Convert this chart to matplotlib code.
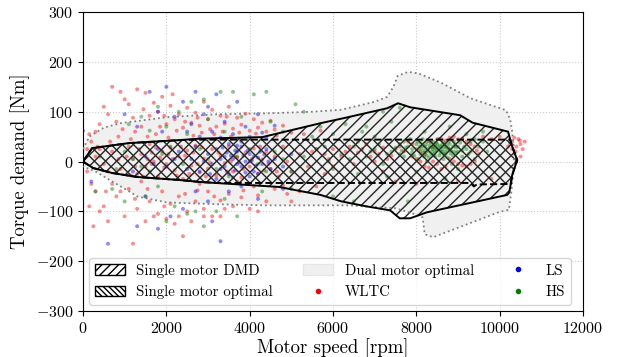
import numpy as np
import matplotlib
matplotlib.use('Agg')
import matplotlib.pyplot as plt
from matplotlib.patches import Patch
from matplotlib.lines import Line2D

plt.rcParams['font.family'] = 'serif'
plt.rcParams['font.serif'] = ['cmr10']
plt.rcParams['mathtext.fontset'] = 'cm'
plt.rcParams['axes.formatter.use_mathtext'] = True
plt.rcParams['font.size'] = 11
plt.rcParams['hatch.linewidth'] = 1.0

# envelopes (speed [rpm], torque [Nm])
dual_opt = [(0, 25), (150, 50), (500, 68), (900, 77), (1450, 83), (2000, 89), (3200, 95),
            (4500, 97), (5500, 100), (6200, 104), (7000, 120), (7300, 130), (7450, 150),
            (7550, 172), (7800, 180), (8050, 177), (8600, 158), (9300, 127), (10150, 103),
            (10250, 85), (10300, 60), (10350, 20), (10330, -20), (10280, -60), (10220, -97),
            (10000, -101), (8400, -152), (8200, -146), (8150, -112), (7900, -104),
            (7500, -94), (6400, -88), (4400, -88), (3300, -86), (2000, -82), (1300, -70),
            (1050, -57), (700, -40), (300, -20), (0, -10)]

single_dmd = [(0, 0), (220, 27), (400, 29), (1100, 37), (2300, 43), (2800, 46), (4300, 49),
              (4700, 57), (5200, 67), (5700, 77), (6250, 87), (7300, 107), (7560, 117),
              (7850, 109), (9050, 93), (9350, 78), (10200, 60), (10300, 30), (10420, 3),
              (10300, -27), (10230, -62), (10180, -67), (8250, -102), (7850, -114),
              (7600, -114), (7370, -98), (6800, -90), (6200, -80), (5700, -67), (4700, -51),
              (2800, -41), (2300, -37), (1300, -31), (700, -23), (240, -13), (0, 0)]

single_opt = [(0, 0), (220, 27), (400, 29), (1100, 37), (2300, 43), (2800, 44), (10250, 44),
              (10300, 30), (10420, 3), (10300, -27), (10264, -45), (9450, -46), (9380, -50),
              (9300, -43), (3200, -43), (2800, -41), (2300, -37), (1300, -31), (700, -23),
              (240, -13), (0, 0)]

# operating points
wltc = [(700, 150), (900, 140), (1000, 125), (1100, 115), (1300, 145), (1500, 138), (1700, 118),
        (1800, 100), (1900, 130), (2100, 112), (2300, 95), (2500, 108), (2700, 98), (2900, 120),
        (3100, 104), (3300, 92), (3500, 110), (3700, 88), (3900, 96), (4100, 85), (4300, 78),
        (4500, 82), (4800, 72), (600, 95), (800, 80), (1200, 88), (1400, 70), (1600, 92),
        (2000, 75), (2200, 85), (2400, 68), (2600, 78), (2800, 72), (3000, 85), (3200, 70),
        (3400, 76), (3600, 66), (3800, 74), (4000, 62), (4200, 68), (4400, 60), (4600, 64),
        (5000, 58), (300, 60), (200, 40), (400, 75), (150, 55), (100, 25), (500, 110),
        (1250, 60), (1750, 55), (2650, 52), (3150, 55), (850, 50), (950, 65), (1150, 45),
        (1550, 50), (1850, 70), (2050, 48), (2250, 62), (2450, 80), (2850, 58), (3050, 65),
        (3350, 60), (3550, 50), (3750, 58), (4150, 56), (4650, 52), (5300, 55), (5700, 62),
        (650, 40), (350, 30), (1450, 105), (2150, 135), (2750, 88), (3450, 90), (1950, 92),
        (300, 10), (500, -5), (700, 20), (900, -15), (1100, 30), (1200, 5), (1300, -25),
        (1400, 15), (1500, -10), (1600, 35), (1700, 0), (1800, -30), (1900, 20), (2000, -5),
        (2100, 28), (2200, -18), (2300, 10), (2400, -35), (2500, 22), (2600, -8), (2700, 32),
        (2800, -22), (2900, 6), (3000, -14), (3100, 25), (3200, -28), (3300, 12), (3400, -3),
        (3500, 30), (3600, -20), (3700, 8), (3800, -32), (3900, 18), (4000, -10), (4100, 26),
        (4200, -24), (4300, 4), (4400, 20), (4500, -15), (4600, 10), (4700, -30), (4800, 30),
        (4900, 0), (5000, -20), (5200, 15), (5400, -10), (5600, 25), (5800, -25),
        (1050, 10), (1450, -30), (1650, 18), (1950, -12), (2150, 5), (2350, 30), (2550, -25),
        (1350, 25), (1550, 5), (1850, 8), (2450, 12), (2750, -5), (1250, -10), (1750, 28),
        (2050, 15), (2250, -28), (2650, 18), (2850, 28), (3050, -2), (3250, 18), (3450, -20),
        (3650, 10), (3850, -15), (4050, 5), (4250, 30), (4450, -5), (4650, -20), (850, 5),
        (600, -20), (400, 25), (1150, -28), (1650, -5), (2950, -30), (3550, 0), (4350, -18),
        (100, -20), (200, -45), (300, -60), (400, -100), (500, -90), (600, -120), (800, -70),
        (1000, -110), (1100, -55), (1300, -95), (1500, -120), (1600, -80), (1800, -105),
        (1900, -60), (2000, -115), (2100, -85), (2200, -125), (2300, -70), (2500, -100),
        (2600, -120), (2700, -80), (2900, -95), (3000, -60), (3100, -110), (3300, -78),
        (3400, -95), (3500, -65), (3600, -90), (3800, -72), (4000, -95), (4200, -68),
        (4400, -80), (4600, -55), (4900, -65), (5200, -60), (5600, -50), (1200, -165),
        (2400, -150), (150, -90), (250, -130), (700, -45), (1400, -40), (2800, -45),
        (3700, -40), (1700, -110), (2300, -110), (2900, -110), (3300, -110), (4200, -100),
        (900, -60), (1250, -75), (1550, -55), (1950, -90), (2450, -65), (2750, -58),
        (3150, -70), (3850, -58), (4100, -50), (4800, -48), (5000, -80), (550, -60),
        (5500, 20), (5800, 15), (6000, 25), (6200, 10), (6400, 30), (6600, 18), (6800, 35),
        (7000, 20), (7200, 28), (7400, 12), (7600, 30), (7800, 40), (8000, 25), (8200, 15),
        (8400, 30), (8600, 45), (8800, 48), (9000, 45), (9200, 40), (9400, 30), (9500, 15),
        (9400, 0), (9200, -10), (9000, -5), (8800, 5), (8600, -15), (8400, 0), (8200, -10),
        (8000, 5), (7500, -40), (8000, -45), (9000, -40), (9800, -35), (6500, -5), (7000, 0),
        (7200, -20), (6000, -10), (10300, 40), (10400, 30), (10500, 35), (10450, 45),
        (10350, 48), (10250, 35), (10550, 25), (10500, 10), (10400, 0), (9800, 45),
        (9600, 50), (10000, 50), (10200, 30), (6900, 10), (7300, 5), (7700, 20), (5900, 5),
        (6300, 20), (6700, 25), (7100, 15), (7500, 25), (7900, 35), (8100, 20), (8300, 40),
        (8500, 45), (8700, 42), (8900, 50), (9100, 46), (9300, 35), (9450, 22), (9300, -5),
        (9100, -8), (8900, 0), (8700, -10), (8500, -5), (8300, -12), (8100, 0), (7900, 10),
        (10600, 40), (10380, 20), (10480, 42), (10300, 25)]

ls = [(2000, 150), (2700, 140), (3200, 135), (2400, 120), (1600, 140), (3700, 120), (4200, 95),
      (1000, 95), (1800, 100), (2200, 90), (2900, 95), (3400, 80), (3900, 70), (4600, 72),
      (1300, 70), (2500, 60), (3100, 60), (3600, 55), (4000, 50), (4400, 48), (0, 62),
      (1500, 10), (2000, -10), (2300, 20), (2600, 5), (2800, -20), (3000, 15), (3100, -5),
      (3200, 25), (3300, -15), (3400, 10), (3500, -25), (3600, 5), (3700, 20), (3800, -10),
      (3900, 0), (4000, 15), (4100, -20), (4200, 8), (4300, -5), (4400, 25), (4500, -15),
      (3500, 35), (3800, 30), (4000, -30), (4200, -25), (3200, -35), (2700, 30), (1200, -20),
      (1800, 25), (4600, 5), (4800, -10), (5000, 15), (3300, 5), (3700, -5), (4100, 10),
      (3950, 22), (3650, -18), (3850, 12), (4050, 2), (3750, -2), (3450, 18), (2900, 0),
      (3550, 12), (3900, -22), (4150, -8), (4350, 14), (3350, 28), (3050, -25), (2500, -15),
      (2200, 5), (1700, -5), (4250, 20), (3600, -32), (3800, 40), (4450, 0), (3700, 32),
      (4000, 0), (3650, 22), (3400, -10),
      (2800, 50), (3300, 48), (1900, 60), (4300, 58), (2600, 75), (3000, 110),
      (600, -165), (1300, -130), (1800, -135), (2400, -95), (3000, -80), (3500, -60),
      (4200, -75), (3300, -160), (2100, -110), (4800, -55), (1500, -70), (200, -40),
      (2700, -60), (3800, -50), (3100, -120)]

hs = [(3600, 140), (3300, 140), (4100, 135), (4400, 140), (5100, 115), (5300, 100), (2600, 120),
      (2900, 125), (1800, 110), (2300, 100), (3000, 85), (1400, 90), (3800, 90), (4500, 80),
      (2000, 70), (1100, 75), (5700, 70), (6300, 75), (7200, 100), (7600, 108), (7400, 80),
      (6800, 70), (8200, 60), (8800, 70), (9200, 55), (9600, 60), (4800, 60), (5500, 50),
      (6000, 55), (6700, 60), (7000, 50), (3400, 60), (2500, 55), (1600, 62),
      (400, 10), (800, -15), (1000, 20), (1200, 5), (1600, -20), (1900, 15), (2400, -5),
      (2800, 25), (3200, -15), (3700, 10), (4200, -5), (4600, 20), (5000, -20), (5300, 10),
      (5600, 25), (5900, 0), (6200, 15), (6500, 30), (6800, 10), (7000, 25), (7200, -5),
      (7400, 20), (7600, 35), (7700, 10), (7900, 25), (8000, 35), (8100, 15), (8200, 30),
      (8300, 20), (8400, 40), (8500, 25), (8600, 30), (8700, 15), (8800, 35), (8900, 20),
      (9000, 30), (9100, 10), (9200, 25), (8050, 5), (8250, 0), (8450, 10), (8650, 5),
      (8850, -5), (8150, 45), (8550, 45), (7850, 45), (9300, 40), (9500, 30), (9700, 20),
      (9400, 5), (6000, -15), (6600, -25), (7300, -30), (8000, -20), (8700, -35), (9000, -15),
      (8350, 28), (8750, 22), (8050, 22), (8450, 18), (7950, 12), (9050, 38), (8150, 32),
      (8250, 12), (8350, 38), (8550, 12), (8650, 38), (8750, 8), (8950, 28), (8600, 20),
      (8400, 25), (8200, 22), (8800, 25), (8500, 35), (8300, 8), (8700, 28), (7800, 30),
      (7650, 22), (9100, 22), (8900, 40), (8100, 38), (8450, 32), (8650, 15), (8250, 40),
      (8120, 26), (8220, 18), (8320, 32), (8420, 14), (8520, 28), (8620, 24), (8720, 34),
      (8820, 16), (8920, 32), (8380, 20), (8480, 38), (8580, 18), (8680, 30), (8780, 40),
      (8180, 10), (8880, 12), (9000, 20), (7700, 40), (7500, 28), (7300, 15), (6900, 20),
      (6400, 5), (5800, 30), (6600, 40), (7100, 35), (9250, 15), (9400, 45), (9600, 40),
      (8080, 30), (8280, 26), (8480, 22), (8680, 20), (8880, 30), (8160, 18), (8360, 14),
      (8560, 32), (8760, 28), (8960, 18), (8030, 40), (8230, 34), (8430, 28), (8630, 36),
      (8830, 22), (7900, 18), (7750, 28), (9150, 30), (9300, 20), (7600, 15),
      (3000, 5), (3500, -30), (4000, 25), (4400, -20), (2100, 30), (1400, -10), (4800, 5),
      (300, -60), (1000, -80), (1500, -70), (2200, -90), (2700, -100), (3200, -100),
      (3700, -110), (2900, -130), (2500, -105), (4300, -60), (5000, -55), (6500, -80),
      (6000, -70), (7800, -80), (1800, -50), (2000, -120), (3400, -75), (700, -55)]

speed_ticks = [0, 2000, 4000, 6000, 8000, 10000, 12000]
torque_ticks = [-300, -200, -100, 0, 100, 200, 300]

fig = plt.figure(figsize=(6.17, 3.57), dpi=100)
ax = fig.add_subplot(111)
fig.subplots_adjust(left=0.1345, right=0.945, bottom=0.129, top=0.966)

d = np.array(dual_opt)
ax.fill(d[:, 0], d[:, 1], facecolor='#f0f0f0', edgecolor='none', zorder=1)
ax.plot(d[:, 0], d[:, 1], ':', color='0.5', lw=1.3, zorder=5)

for pts, c in [(wltc, 'red'), (ls, 'blue'), (hs, 'green')]:
    p = np.array(pts)
    ax.scatter(p[:, 0], p[:, 1], s=8, color=c, alpha=0.45, edgecolors='none', zorder=2)

m = np.array(single_dmd)
ax.fill(m[:, 0], m[:, 1], facecolor='none', edgecolor='0.15', hatch='///', lw=0, zorder=3)
ax.plot(m[:, 0], m[:, 1], '-', color='k', lw=1.4, zorder=6)

o = np.array(single_opt)
ax.fill(o[:, 0], o[:, 1], facecolor='none', edgecolor='0.15', hatch='\\\\\\', lw=0, zorder=4)
ax.plot(o[:, 0], o[:, 1], '--', color='k', lw=1.4, zorder=6)

ax.set_xlim(speed_ticks[0], speed_ticks[-1])
ax.set_ylim(torque_ticks[0], torque_ticks[-1])
ax.set_xticks(speed_ticks)
ax.set_yticks(torque_ticks)
ax.tick_params(labelsize=11.5)
ax.grid(True, ls=':', color='0.8', lw=0.8)
ax.set_axisbelow(True)
ax.set_xlabel('Motor speed [rpm]', fontsize=13.5, labelpad=2)
ax.set_ylabel('Torque demand [Nm]', fontsize=13.5, labelpad=4)

handles = [Patch(facecolor='white', edgecolor='k', hatch='////', label='Single motor DMD'),
           Patch(facecolor='white', edgecolor='k', hatch='\\\\\\\\\\\\', label='Single motor optimal'),
           Patch(facecolor='#f0f0f0', edgecolor='#e6e6e6', label='Dual motor optimal'),
           Line2D([], [], ls='none', marker='o', ms=3, color='red', label='WLTC'),
           Line2D([], [], ls='none', marker='o', ms=3, color='blue', label='LS'),
           Line2D([], [], ls='none', marker='o', ms=3, color='green', label='HS')]
leg = ax.legend(handles=handles, loc='lower left', ncol=3, fontsize=10.7,
                borderaxespad=0.4, handletextpad=0.8, columnspacing=2.0)
leg.set_zorder(10)

fig.savefig('out.png', dpi=100)
